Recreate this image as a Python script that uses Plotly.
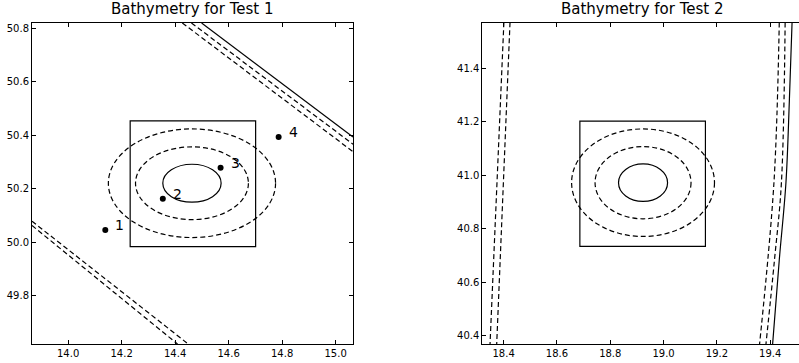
import plotly.graph_objects as go

# ---------------- data ----------------
# Test 1 (left)
t1_xrange = [13.865, 15.065]
t1_yrange = [49.62, 50.82]
t1_xticks = [14.0, 14.2, 14.4, 14.6, 14.8, 15.0]
t1_yticks = [49.8, 50.0, 50.2, 50.4, 50.6, 50.8]
t1_box = [14.232, 14.701, 49.984, 50.454]          # x0, x1, y0, y1
t1_center = [14.463, 50.221]
t1_semi_x = [0.109, 0.211, 0.3125]
t1_semi_y = [0.071, 0.136, 0.203]
t1_ell_dash = ["solid", "dash", "dash"]
t1_pts_x = [14.139, 14.354, 14.570, 14.787]
t1_pts_y = [50.046, 50.163, 50.279, 50.394]
t1_pts_lab = ["1", "2", "3", "4"]
# straight depth contours (x list, y list, dash)
t1_lines = [
    ([14.499, 15.065], [50.820, 50.394], "solid"),
    ([14.461, 15.065], [50.820, 50.367], "dash"),
    ([14.427, 15.065], [50.820, 50.339], "dash"),
    ([13.865, 14.449], [50.079, 49.620], "dash"),
    ([13.865, 14.409], [50.063, 49.620], "dash"),
]

# Test 2 (right)
t2_xrange = [18.32, 19.508]
t2_yrange = [40.37, 41.57]
t2_xticks = [18.4, 18.6, 18.8, 19.0, 19.2, 19.4]
t2_yticks = [40.4, 40.6, 40.8, 41.0, 41.2, 41.4]
t2_box = [18.686, 19.157, 40.735, 41.203]
t2_center = [18.923, 40.973]
t2_semi_x = [0.092, 0.180, 0.268]
t2_semi_y = [0.070, 0.135, 0.201]
t2_ell_dash = ["solid", "dash", "dash"]
t2_lines = [
    ([18.401, 18.349], [41.5725, 40.369], "dash"),
    ([18.424, 18.374], [41.5725, 40.369], "dash"),
    ([19.434, 19.414, 19.360], [41.5725, 40.973, 40.369], "dash"),
    ([19.456, 19.442, 19.416, 19.384], [41.5725, 40.973, 40.684, 40.369], "dash"),
    ([19.482, 19.472, 19.459, 19.434, 19.409], [41.5725, 41.284, 40.973, 40.684, 40.369], "solid"),
]

DASH = "5px,3px"
LW = 1.2
FONT = "DejaVu Sans"

fig = go.Figure()

def add_panel(xa, ya, lines, box, center, sx, sy, dashes):
    for xs, ys, d in lines:
        fig.add_trace(go.Scatter(
            x=xs, y=ys, mode="lines", xaxis=xa, yaxis=ya,
            line=dict(color="black", width=LW,
                      dash=(DASH if d == "dash" else "solid"),
                      shape="spline" if len(xs) > 2 else "linear"),
            showlegend=False, hoverinfo="skip"))
    fig.add_shape(type="rect", xref=xa, yref=ya,
                  x0=box[0], x1=box[1], y0=box[2], y1=box[3],
                  line=dict(color="black", width=LW))
    for a, b, d in zip(sx, sy, dashes):
        fig.add_shape(type="circle", xref=xa, yref=ya,
                      x0=center[0] - a, x1=center[0] + a,
                      y0=center[1] - b, y1=center[1] + b,
                      line=dict(color="black", width=LW,
                                dash=(DASH if d == "dash" else "solid")))

add_panel("x", "y", t1_lines, t1_box, t1_center, t1_semi_x, t1_semi_y, t1_ell_dash)
add_panel("x2", "y2", t2_lines, t2_box, t2_center, t2_semi_x, t2_semi_y, t2_ell_dash)

fig.add_trace(go.Scatter(
    x=t1_pts_x, y=t1_pts_y, mode="markers", xaxis="x", yaxis="y",
    marker=dict(color="black", size=6), showlegend=False, hoverinfo="skip"))

annotations = []
for px, py, lab in zip(t1_pts_x, t1_pts_y, t1_pts_lab):
    annotations.append(dict(x=px, y=py, xref="x", yref="y", text=lab,
                            showarrow=False, xanchor="left", yanchor="middle",
                            xshift=8, yshift=5,
                            font=dict(family=FONT, size=14, color="black")))

W, H = 799, 363
L1, R1 = 32, 353
L2, R2 = 482.3, 799
TOP, BOT = 23, 344

annotations.append(dict(text="Bathymetry for Test 1", xref="paper", yref="paper",
                        x=(L1 + R1) / 2 / W, y=(H - TOP + 3) / H, xanchor="center",
                        yanchor="bottom", showarrow=False,
                        font=dict(family=FONT, size=15, color="black")))
annotations.append(dict(text="Bathymetry for Test 2", xref="paper", yref="paper",
                        x=(L2 + 803.3) / 2 / W, y=(H - TOP + 3) / H, xanchor="center",
                        yanchor="bottom", showarrow=False,
                        font=dict(family=FONT, size=15, color="black")))

axis_common = dict(showgrid=False, zeroline=False, showline=True, linecolor="black",
                   linewidth=1, ticks="inside", ticklen=4, tickwidth=1, tickcolor="black",
                   tickformat=".1f",
                   tickfont=dict(family=FONT, size=10, color="black"))

fig.update_layout(
    width=W, height=H, margin=dict(l=0, r=0, t=0, b=0),
    paper_bgcolor="white", plot_bgcolor="white",
    annotations=annotations,
    xaxis=dict(domain=[L1 / W, R1 / W], range=t1_xrange, tickvals=t1_xticks,
               mirror="ticks", anchor="y", **axis_common),
    yaxis=dict(domain=[(H - BOT) / H, (H - TOP) / H], range=t1_yrange, tickvals=t1_yticks,
               mirror="ticks", anchor="x", **axis_common),
    xaxis2=dict(domain=[L2 / W, R2 / W], range=t2_xrange, tickvals=t2_xticks,
                mirror="ticks", anchor="y2", **axis_common),
    yaxis2=dict(domain=[(H - BOT) / H, (H - TOP) / H], range=t2_yrange, tickvals=t2_yticks,
                mirror=False, anchor="x2", **axis_common),
)

fig.write_html("out.html")
